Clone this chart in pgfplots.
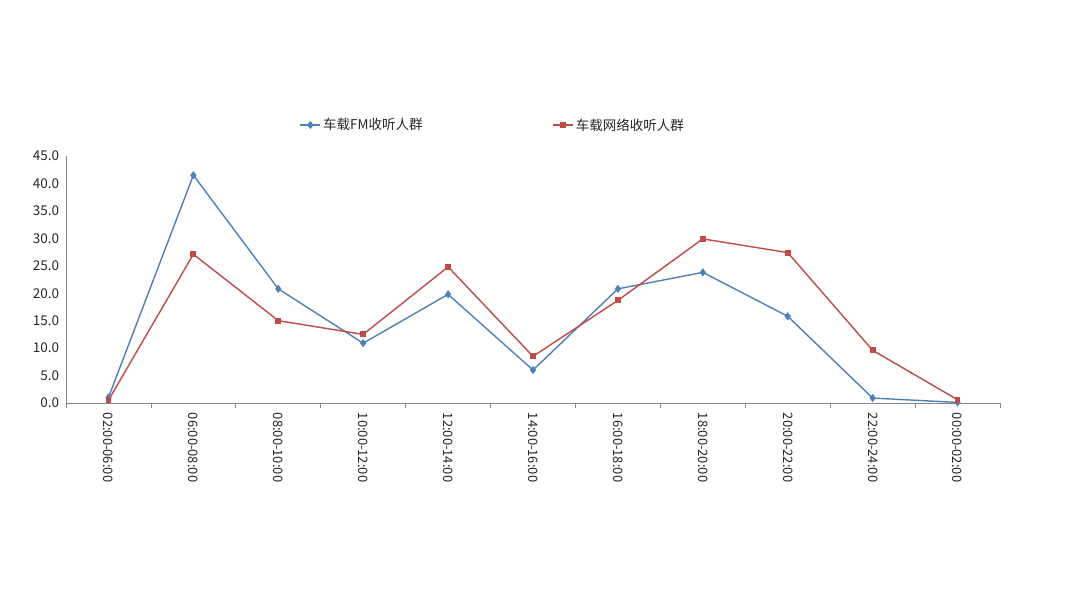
\documentclass[border=0pt]{standalone}
\usepackage{pgfplots}
\pgfplotsset{compat=1.18}
\usepackage{fontspec}
\setmainfont{Noto Sans CJK SC}
\definecolor{fmblue}{HTML}{4F7FB8}
\definecolor{netred}{HTML}{BE4B48}
\definecolor{axgray}{HTML}{868686}
\begin{document}
\begin{tikzpicture}[x=1pt,y=1pt]
\useasboundingbox (0,0) rectangle (1080,608);
\begin{axis}[
  at={(66pt,205pt)}, anchor=south west,
  scale only axis, width=934pt, height=247pt,
  xmin=-0.5, xmax=10.5, ymin=0, ymax=45,
  axis x line*=bottom, axis y line*=left,
  axis line style={axgray, line width=0.8pt},
  xtick={0,...,10},
  xticklabels={02:00-06:00,06:00-08:00,08:00-10:00,10:00-12:00,12:00-14:00,14:00-16:00,16:00-18:00,18:00-20:00,20:00-22:00,22:00-24:00,00:00-02:00},
  major x tick style={draw=none},
  minor xtick={-0.5,0.5,...,10.5},
  minor tick length=5pt,
  minor x tick style={axgray, line width=0.8pt},
  tick align=outside,
  ytick={0,5,...,45},
  major y tick style={draw=none},
  x tick label style={rotate=-90, anchor=west, font=\fontsize{13}{15}\selectfont, text=black!85},
  y tick label style={font=\fontsize{13.5}{15}\selectfont, text=black!85, xshift=1pt},
  /pgf/number format/assume math mode=true,
  yticklabel style={/pgf/number format/.cd, fixed, fixed zerofill, precision=1},
  xticklabel shift=2pt,
  legend columns=2,
  legend style={at={(0.457,1.1255)}, anchor=center, draw=none, fill=none,
    font=\fontsize{13.5}{15}\selectfont, text=black!85,
    /tikz/every even column/.append style={column sep=128pt}},
  legend image code/.code={\draw[#1] (0pt,0pt) -- (20pt,0pt); \draw[#1, only marks] plot coordinates {(10pt,0pt)};},
]
\addplot[fmblue, line width=1.4pt, mark=diamond*, mark size=3pt, mark options={solid}] coordinates {
(0,1.0) (1,41.5) (2,20.8) (3,10.9) (4,19.8) (5,6.0) (6,20.8) (7,23.8) (8,15.8) (9,0.9) (10,0.1)};
\addlegendentry{车载FM收听人群}
\addplot[netred, line width=1.4pt, mark=square*, mark size=2.2pt, mark options={solid}] coordinates {
(0,0.5) (1,27.1) (2,15.0) (3,12.5) (4,24.8) (5,8.5) (6,18.7) (7,29.9) (8,27.4) (9,9.6) (10,0.6)};
\addlegendentry{车载网络收听人群}
\end{axis}
\end{tikzpicture}
\end{document}
